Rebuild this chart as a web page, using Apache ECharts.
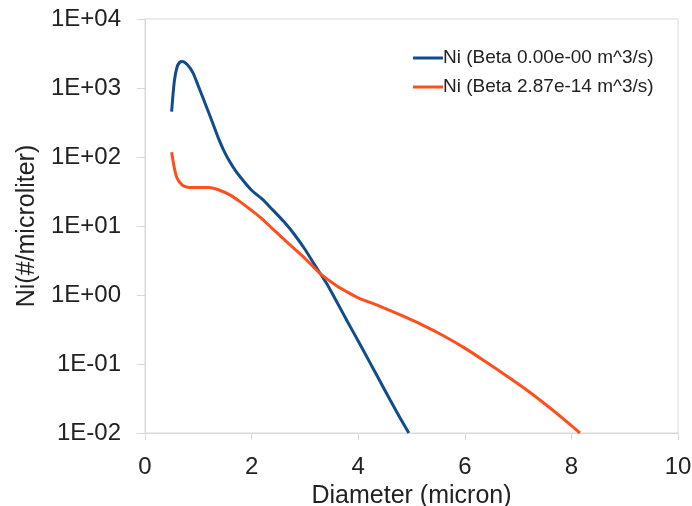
<!DOCTYPE html>
<html>
<head>
<meta charset="utf-8">
<script src="https://cdn.jsdelivr.net/npm/echarts@6/dist/echarts.min.js"></script>
<style>
html,body{margin:0;padding:0;background:#fff;}
#chart{width:692px;height:506px;}
</style>
</head>
<body>
<div id="chart"></div>
<script>
// Data
var seriesNames = ['Ni (Beta 0.00e-00 m^3/s)', 'Ni (Beta 2.87e-14 m^3/s)'];
var diamBlue = [0.5, 0.55, 0.6, 0.65, 0.7, 0.8, 0.9, 1.0, 1.1, 1.2, 1.3, 1.4, 1.5, 1.6, 1.7, 1.8, 2.0, 2.2, 2.4, 2.6, 2.8, 3.0, 3.2, 3.4, 3.6, 3.8, 4.0, 4.2, 4.4, 4.6, 4.8, 4.95];
var niBlue   = [455, 1250, 2000, 2350, 2420, 2150, 1660, 1070, 680, 430, 270, 170, 115, 83, 63, 50, 33, 24.5, 17, 11.7, 7.6, 4.6, 2.6, 1.5, 0.79, 0.41, 0.215, 0.112, 0.058, 0.030, 0.0158, 0.01];
var diamRed  = [0.5, 0.55, 0.6, 0.7, 0.8, 1.0, 1.2, 1.4, 1.6, 1.8, 2.0, 2.2, 2.4, 2.6, 2.8, 3.0, 3.3, 3.6, 3.8, 4.0, 4.4, 4.8, 5.2, 5.6, 6.0, 6.4, 6.8, 7.2, 7.6, 8.0, 8.16];
var niRed    = [117, 70, 50, 39, 36.5, 36, 36, 33, 28, 22, 16.8, 12.6, 9.0, 6.5, 4.7, 3.4, 2.0, 1.35, 1.1, 0.91, 0.69, 0.51, 0.37, 0.257, 0.17, 0.107, 0.066, 0.040, 0.023, 0.0128, 0.01];
var xTickLabels = ['0', '2', '4', '6', '8', '10'];
var yTickLabels = ['1E-02', '1E-01', '1E+00', '1E+01', '1E+02', '1E+03', '1E+04'];
var xTitle = 'Diameter (micron)';
var yTitle = 'Ni(#/microliter)';

function pairs(xs, ys) { return xs.map(function (x, i) { return [x, ys[i]]; }); }

var font = 'Liberation Sans, Arial, sans-serif';
var axisGrey = '#d9d9d9';
var chart = echarts.init(document.getElementById('chart'), null, {renderer: 'canvas'});
chart.setOption({
  animation: false,
  backgroundColor: '#fff',
  grid: {left: 145, right: 14, top: 19, bottom: 73, show: true, borderColor: axisGrey, borderWidth: 1,
    containLabel: false, outerBoundsMode: 'none'},
  legend: {
    orient: 'vertical', left: 408, top: 43,
    itemWidth: 30, itemHeight: 3, itemGap: 9, icon: 'rect',
    textStyle: {fontFamily: font, fontSize: 19, color: '#222', lineHeight: 20, padding: [0, 0, 0, -5]},
    data: seriesNames
  },
  xAxis: {
    type: 'value', min: 0, max: 10, interval: 2,
    name: xTitle, nameLocation: 'middle', nameGap: 40,
    nameTextStyle: {fontFamily: font, fontSize: 25, color: '#222'},
    axisLine: {show: true, lineStyle: {color: axisGrey}},
    axisTick: {show: true, length: 7, lineStyle: {color: axisGrey}},
    splitLine: {show: false},
    axisLabel: {fontFamily: font, fontSize: 24, color: '#222', margin: 22,
      formatter: function (v) { var i = Math.round(v / 2); return xTickLabels[i] !== undefined ? xTickLabels[i] : ''; }}
  },
  yAxis: {
    type: 'log', logBase: 10, min: 0.01, max: 10000,
    name: yTitle, nameLocation: 'middle', nameGap: 105,
    nameTextStyle: {fontFamily: font, fontSize: 25, color: '#222'},
    axisLine: {show: true, lineStyle: {color: axisGrey}},
    axisTick: {show: true, length: 8, lineStyle: {color: axisGrey}},
    splitLine: {show: false},
    minorTick: {show: false},
    axisLabel: {fontFamily: font, fontSize: 24, color: '#222', margin: 24,
      formatter: function (v) { var e = Math.round(Math.log10(v)); return yTickLabels[e + 2] || ''; }}
  },
  series: [
    {name: seriesNames[0], type: 'line', data: pairs(diamBlue, niBlue), smooth: 0.3, symbol: 'none',
      clip: true, lineStyle: {color: '#114d8c', width: 3}, itemStyle: {color: '#114d8c'}},
    {name: seriesNames[1], type: 'line', data: pairs(diamRed, niRed), smooth: 0.3, symbol: 'none',
      clip: true, lineStyle: {color: '#ff4f1c', width: 3}, itemStyle: {color: '#ff4f1c'}}
  ]
});
</script>
</body>
</html>
